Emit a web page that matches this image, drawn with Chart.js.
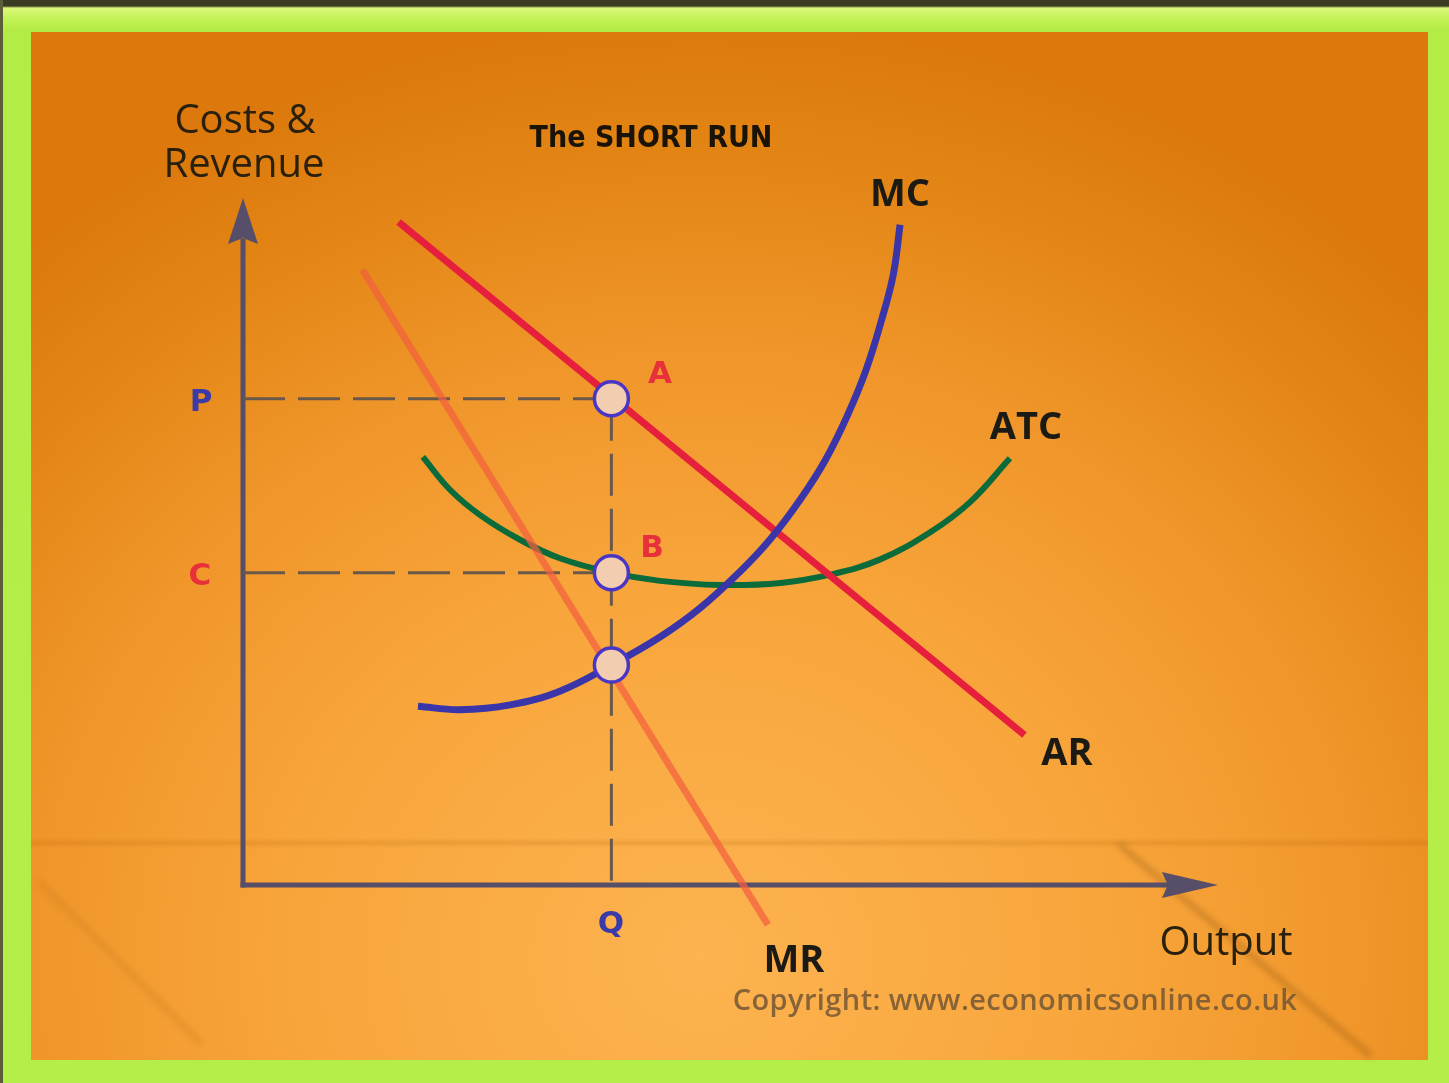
<!DOCTYPE html>
<html><head><meta charset="utf-8">
<script src="https://cdn.jsdelivr.net/npm/chart.js@4"></script>
<style>
html,body{margin:0;padding:0;width:1449px;height:1083px;overflow:hidden;background:#b5ee48;}
#frame{position:absolute;left:0;top:0;width:1449px;height:1083px;background:linear-gradient(#3b3a22 0px,#3b3a22 6px,#dcf87c 8px,#c4f258 18px,#b3ec45 30px,#b5ee48 100%);}
#leftdark{position:absolute;left:0;top:0;width:3px;height:1083px;background:#5a5c3a;}
#panel{position:absolute;left:31px;top:32px;width:1397px;height:1028px;
 background:radial-gradient(ellipse 74% 92% at 48% 90%, #fdb350 0%, #f8a63c 38%, #f0962a 64%, #e28414 86%, #dc780c 100%);}
.band{position:absolute;pointer-events:none;}
canvas{position:absolute;left:0;top:0;}
.lbl{position:absolute;transform:translate(-50%,-50%);white-space:nowrap;line-height:1;}
.big{font-family:"Open Sans",sans-serif;font-weight:500;font-size:40px;color:#2a200e;}
.tag{font-family:"Open Sans",sans-serif;font-weight:700;font-size:38px;color:#1c1a14;}
.pt{font-family:"DejaVu Sans",sans-serif;font-weight:700;font-size:31px;}
</style></head>
<body>
<div id="frame"></div>
<div id="leftdark"></div>
<div id="panel"></div>
<div class="band" style="left:31px;top:838px;width:1397px;height:10px;background:linear-gradient(rgba(170,90,0,0),rgba(170,90,0,0.18),rgba(170,90,0,0));"></div>
<div class="band" style="left:1120px;top:842px;width:330px;height:5px;background:rgba(120,70,10,0.35);filter:blur(3px);transform-origin:0 0;transform:rotate(40deg);"></div>
<div class="band" style="left:40px;top:880px;width:230px;height:4px;background:rgba(140,80,10,0.22);filter:blur(3px);transform-origin:0 0;transform:rotate(45deg);"></div>
<canvas id="c" width="1449" height="1083"></canvas>

<div class="lbl big" style="left:245px;top:118px;">Costs &amp;</div>
<div class="lbl big" style="left:244px;top:162px;">Revenue</div>
<div class="lbl" style="left:651px;top:137px;font-family:'DejaVu Sans Condensed','DejaVu Sans',sans-serif;font-weight:700;font-size:30px;color:#1a1408;">The SHORT RUN</div>
<div class="lbl tag" style="left:900px;top:191px;">MC</div>
<div class="lbl tag" style="left:1026px;top:424px;">ATC</div>
<div class="lbl tag" style="left:1067px;top:750px;">AR</div>
<div class="lbl tag" style="left:794px;top:957px;">MR</div>
<div class="lbl big" style="left:1226px;top:940px;">Output</div>
<div class="lbl pt" style="left:611px;top:922px;color:#3a3aa8;">Q</div>
<div class="lbl pt" style="left:201px;top:400px;color:#3a3aa8;">P</div>
<div class="lbl pt" style="left:200px;top:574px;color:#e8303a;">C</div>
<div class="lbl pt" style="left:660px;top:372px;color:#e8303a;">A</div>
<div class="lbl pt" style="left:652px;top:546px;color:#e8303a;">B</div>
<div class="lbl" style="left:1015px;top:998px;font-family:'Open Sans',sans-serif;font-weight:600;font-size:29px;letter-spacing:0.4px;color:#735634;opacity:0.85;">Copyright: www.economicsonline.co.uk</div>

<script>
// ---- data (output on x, costs & revenue on y) ----
const Q = 37.9;      // profit-maximising output
const P = 71.0;      // price
const C = 45.6;      // average cost at Q
const MCQ = 32.1;    // MC = MR at Q

const arX = [16.0, 80.4];
const arY = [96.8, 21.9];

const mrX = [12.3, 54.0];
const mrY = [89.8, -5.8];

const atcX = [18.5, 21.3, 24.4, 28.5, 32.6, 37.9, 42.9, 49.1, 55.3, 60.4, 65.5, 70.7, 74.8, 78.9];
const atcY = [62.5, 57.7, 54.0, 50.4, 47.7, 45.6, 44.4, 43.8, 44.1, 45.3, 47.5, 51.5, 55.9, 62.3];

const mcX = [18.0, 22.3, 27.5, 32.6, 37.9, 42.9, 47.0, 51.1, 54.2, 57.3, 59.9, 62.2, 64.1, 65.7, 66.9, 67.6];
const mcY = [26.1, 25.6, 26.3, 28.3, 32.1, 36.2, 40.4, 45.7, 50.4, 56.2, 62.0, 68.6, 75.2, 82.5, 89.1, 96.4];

const yAxisX = [0, 0];
const yAxisY = [0, 94];
const xAxisX = [0, 95];
const xAxisY = [0, 0];
const yArrowTip = 100.3;
const xArrowTip = 100.3;

// ---- helpers ----
const pts = (xs, ys) => xs.map((v, i) => ({x: v, y: ys[i]}));
const line = (label, xs, ys, color, width, order, extra) => Object.assign({
  label, data: pts(xs, ys), showLine: true, pointRadius: 0, borderColor: color,
  borderWidth: width, backgroundColor: 'transparent', clip: false, order,
  borderCapStyle: 'butt'
}, extra || {});

const axisColor = '#574e6a';

const arrowPlugin = {
  id: 'arrowheads',
  afterDatasetsDraw(chart) {
    const {ctx, scales: {x, y}} = chart;
    ctx.save();
    ctx.fillStyle = axisColor;
    const ax = x.getPixelForValue(0);
    const tipY = y.getPixelForValue(yArrowTip);
    ctx.beginPath();
    ctx.moveTo(ax, tipY);
    ctx.lineTo(ax + 15, tipY + 46);
    ctx.lineTo(ax, tipY + 40);
    ctx.lineTo(ax - 15, tipY + 46);
    ctx.closePath();
    ctx.fill();
    const ay = y.getPixelForValue(0);
    const tipX = x.getPixelForValue(xArrowTip);
    ctx.beginPath();
    ctx.moveTo(tipX, ay);
    ctx.lineTo(tipX - 56, ay - 13);
    ctx.lineTo(tipX - 50, ay);
    ctx.lineTo(tipX - 56, ay + 13);
    ctx.closePath();
    ctx.fill();
    ctx.restore();
  }
};

const dash = {borderDash: [42, 13], borderWidth: 3};
const smooth = {tension: 0.4};

new Chart(document.getElementById('c'), {
  type: 'scatter',
  data: {
    datasets: [
      line('Y axis', yAxisX, yAxisY, axisColor, 5, 20, {borderCapStyle: 'square'}),
      line('X axis', xAxisX, xAxisY, axisColor, 5, 20, {borderCapStyle: 'square'}),
      line('P level', [0, Q], [P, P], '#6a5848', 3, 15, dash),
      line('C level', [0, Q], [C, C], '#6a5848', 3, 15, dash),
      line('Q level', [Q, Q], [P, 0], '#6a5848', 3, 15, dash),
      line('ATC', atcX, atcY, '#0b6b3a', 6, 10, smooth),
      line('AR', arX, arY, '#e6203c', 7, 8),
      line('MR', mrX, mrY, 'rgba(242,96,62,0.72)', 7, 6),
      line('MC', mcX, mcY, '#3a36aa', 7, 4, smooth),
      {
        label: 'points', data: [{x: Q, y: P}, {x: Q, y: C}, {x: Q, y: MCQ}],
        showLine: false, pointRadius: 17, pointBackgroundColor: '#f3cdb0',
        pointBorderColor: '#4a36c4', pointBorderWidth: 3.5, clip: false, order: 0
      }
    ]
  },
  options: {
    responsive: false, animation: false, devicePixelRatio: 1,
    layout: {padding: {left: 243, right: 234, top: 200, bottom: 61}},
    scales: {
      x: {type: 'linear', min: 0, max: 100, display: false},
      y: {type: 'linear', min: -20, max: 100, display: false}
    },
    plugins: {legend: {display: false}, tooltip: {enabled: false}, title: {display: false}},
    events: []
  },
  plugins: [arrowPlugin]
});
</script>
</body></html>
